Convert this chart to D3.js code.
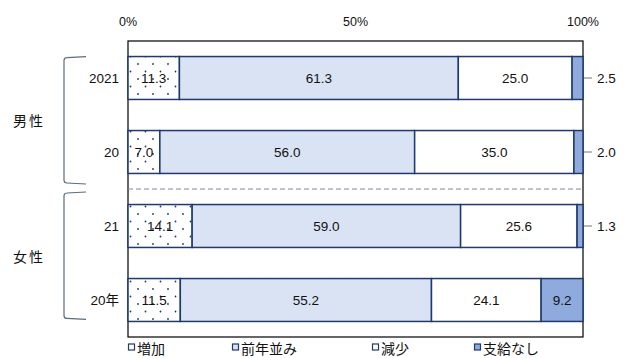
<!DOCTYPE html>
<html>
<head>
<meta charset="utf-8">
<script src="https://cdn.jsdelivr.net/npm/d3@7"></script>
<style>
  body { margin: 0; background: #fff; }
  svg { display: block; font-family: "Liberation Sans", Arial, "Noto Sans CJK JP", sans-serif; }
</style>
</head>
<body>
<svg id="chart" width="625" height="358"></svg>
<script>
// Rows (top to bottom) and the group they belong to
const rowLabels = ["2021", "20", "21", "20年"];
const rowGroups = ["男性", "男性", "女性", "女性"];
const groups = ["男性", "女性"];

// Series (stacked left to right)
const seriesNames = ["増加", "前年並み", "減少", "支給なし"];
const increase  = [11.3, 7.0, 14.1, 11.5];
const same      = [61.3, 56.0, 59.0, 55.2];
const decrease  = [25.0, 35.0, 25.6, 24.1];
const none      = [2.5, 2.0, 1.3, 9.2];

const tickValues = [0, 50, 100];
const tickLabels = ["0%", "50%", "100%"];

const fills = ["url(#dots)", "#dae3f3", "#ffffff", "#8faadc"];
const legendFills = ["#ffffff", "#dae3f3", "#ffffff", "#8faadc"];
const navy = "#1f3a6e";

const svg = d3.select("#chart");
const defs = svg.append("defs");
const pat = defs.append("pattern")
  .attr("id", "dots").attr("patternUnits", "userSpaceOnUse")
  .attr("width", 15).attr("height", 15);
pat.append("rect").attr("width", 15).attr("height", 15).attr("fill", "#fff");
pat.append("circle").attr("cx", 3).attr("cy", 4).attr("r", 0.9).attr("fill", navy);
pat.append("circle").attr("cx", 10.5).attr("cy", 11.5).attr("r", 0.9).attr("fill", navy);

const plotL = 128, plotR = 583, plotT = 41, plotB = 337;
const x = d3.scaleLinear().domain([0, 100]).range([plotL, plotR]);
const y = d3.scaleBand().domain(rowLabels).range([plotT, plotB]).paddingInner(0.42).paddingOuter(0.21);

const table = rowLabels.map((r, i) => {
  const vals = [increase[i], same[i], decrease[i], none[i]];
  let acc = 0;
  return vals.map((v, k) => { const s = acc; acc += v; return { row: r, i, k, v, x0: s, x1: acc }; });
});

// Plot frame
svg.append("rect").attr("x", plotL).attr("y", plotT)
  .attr("width", plotR - plotL).attr("height", plotB - plotT)
  .attr("fill", "none").attr("stroke", "#000").attr("stroke-width", 1.2);

// Dashed separator between groups
const sepY = (y("20") + y.bandwidth() + y("21")) / 2;
svg.append("line").attr("x1", plotL).attr("x2", plotR).attr("y1", sepY).attr("y2", sepY)
  .attr("stroke", "#7f8a99").attr("stroke-width", 1.2).attr("stroke-dasharray", "5,3");

// Bars
const rowsG = svg.selectAll("g.row").data(table).join("g").attr("class", "row");
rowsG.selectAll("rect").data(d => d).join("rect")
  .attr("x", d => x(d.x0)).attr("y", d => y(d.row))
  .attr("width", d => Math.max(0, Math.min(x(d.x1), plotR) - x(d.x0))).attr("height", y.bandwidth())
  .attr("fill", d => fills[d.k]).attr("stroke", navy).attr("stroke-width", 1.5);

// Labels inside bars (small segments labelled outside on the right)
rowsG.selectAll("text.val").data(d => d).join("text").attr("class", "val")
  .attr("font-size", 13.5)
  .attr("dominant-baseline", "central")
  .attr("fill", "#111")
  .each(function(d) {
    const t = d3.select(this);
    const cy = y(d.row) + y.bandwidth() / 2;
    if (d.k === 3 && d.v < 5) {
      t.attr("x", plotR + 14).attr("y", cy).attr("text-anchor", "start");
    } else {
      t.attr("x", (x(d.x0) + x(Math.min(d.x1, 100))) / 2).attr("y", cy).attr("text-anchor", "middle");
    }
  })
  .text(d => d.v.toFixed(1));

// Leader lines for outside labels
rowsG.selectAll("line.lead").data(d => d.filter(s => s.k === 3 && s.v < 5)).join("line").attr("class", "lead")
  .attr("x1", plotR + 1).attr("x2", plotR + 9)
  .attr("y1", d => y(d.row) + y.bandwidth() / 2).attr("y2", d => y(d.row) + y.bandwidth() / 2)
  .attr("stroke", "#8c8c8c").attr("stroke-width", 1.2);

// Top axis labels
svg.selectAll("text.tick").data(tickValues).join("text").attr("class", "tick")
  .attr("x", d => x(d)).attr("y", 22).attr("text-anchor", "middle")
  .attr("dominant-baseline", "central").attr("font-size", 12.5).attr("fill", "#111")
  .text((d, i) => tickLabels[i]);

// Row labels
svg.selectAll("text.rowlab").data(rowLabels).join("text").attr("class", "rowlab")
  .attr("x", 119).attr("y", d => y(d) + y.bandwidth() / 2)
  .attr("text-anchor", "end").attr("dominant-baseline", "central")
  .attr("font-size", 13.5).attr("fill", "#111")
  .style("font-family", "'Liberation Sans', 'Noto Sans CJK JP', sans-serif")
  .text(d => d);

// Group brackets and labels
groups.forEach(g => {
  const rows = rowLabels.filter((r, i) => rowGroups[i] === g);
  const y0 = g === groups[0] ? y(rows[0]) : sepY + 3;
  const y1 = g === groups[0] ? sepY - 5 : y(rows[rows.length - 1]) + y.bandwidth() - 2;
  const xr = 86, xl = 64, c = 3;
  svg.append("path")
    .attr("d", `M${xr},${y0} L${xl + c},${y0 + 1} Q${xl},${y0 + 1} ${xl},${y0 + 1 + c} L${xl},${y1 - 1 - c} Q${xl},${y1 - 1} ${xl + c},${y1 - 1} L${xr},${y1}`)
    .attr("fill", "none").attr("stroke", "#5b6b82").attr("stroke-width", 1.2);
  svg.append("text")
    .attr("x", 13).attr("y", (y0 + y1) / 2)
    .attr("dominant-baseline", "central").attr("font-size", 14).attr("fill", "#111")
    .style("font-family", "'Noto Sans CJK JP', sans-serif")
    .style("letter-spacing", "2px")
    .text(g);
});

// Legend
const legendX = [128, 232, 372, 474];
const lg = svg.selectAll("g.leg").data(seriesNames).join("g").attr("class", "leg")
  .attr("transform", (d, i) => `translate(${legendX[i]},349)`);
lg.append("rect").attr("x", 0.5).attr("y", -5).attr("width", 6).attr("height", 6)
  .attr("fill", (d, i) => legendFills[i]).attr("stroke", navy).attr("stroke-width", 1.2);
lg.append("text").attr("x", 9).attr("y", -1).attr("dominant-baseline", "central")
  .attr("font-size", 14).attr("fill", "#111")
  .style("font-family", "'Noto Sans CJK JP', sans-serif")
  .text(d => d);
</script>
</body>
</html>
